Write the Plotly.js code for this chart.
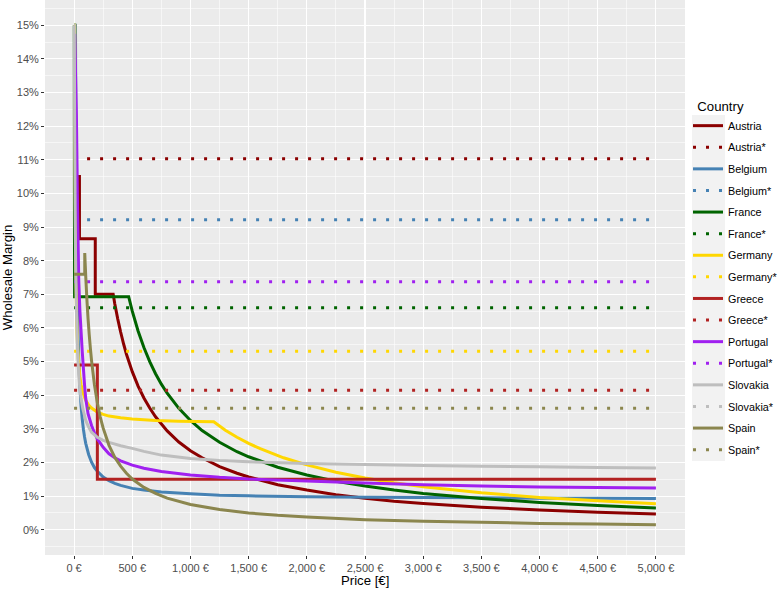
<!DOCTYPE html>
<html>
<head>
<meta charset="utf-8">
<script src="https://cdn.plot.ly/plotly-3.0.1.min.js"></script>
<style>html,body{margin:0;padding:0;background:#fff}#chart{width:777px;height:590px}</style>
</head>
<body>
<div id="chart"></div>
<script>
// ---- Data ----
const countries = ["Austria", "Belgium", "France", "Germany", "Greece", "Portugal", "Slovakia", "Spain"];
const colors = ["#8B0000", "#4682B4", "#006400", "#FFD700", "#B22222", "#A020F0", "#BEBEBE", "#8B864E"];

// Price in EUR, wholesale margin in %
const priceAustria  = [0, 46, 46, 182, 182, 336, 350, 375, 400, 425, 450, 500, 550, 600, 650, 700, 800, 900, 1000, 1100, 1250, 1400, 1500, 1750, 2000, 2250, 2500, 2750, 3000, 3500, 4000, 4500, 5000];
const marginAustria = [10.5, 10.5, 8.65, 8.65, 7.0, 7.0, 6.71, 6.27, 5.88, 5.53, 5.22, 4.70, 4.27, 3.92, 3.62, 3.36, 2.94, 2.61, 2.35, 2.14, 1.88, 1.68, 1.57, 1.34, 1.18, 1.04, 0.94, 0.85, 0.78, 0.67, 0.59, 0.52, 0.47];

const priceBelgium  = [0, 11.9, 15, 20, 25, 30, 40, 50, 60, 70, 80, 90, 100, 125, 150, 175, 200, 250, 300, 350, 400, 500, 600, 750, 1000, 1250, 1500, 2000, 2500, 3000, 3500, 4000, 4500, 5000];
const marginBelgium = [15, 15, 12.03, 9.25, 7.58, 6.47, 5.08, 4.24, 3.68, 3.29, 2.99, 2.76, 2.57, 2.24, 2.01, 1.85, 1.74, 1.57, 1.46, 1.38, 1.32, 1.23, 1.18, 1.12, 1.07, 1.03, 1.01, 0.98, 0.97, 0.96, 0.95, 0.94, 0.94, 0.93];

const priceFrance  = [0, 2, 2.5, 3, 3.5, 4.33, 469, 500, 550, 600, 650, 700, 750, 800, 900, 1000, 1100, 1250, 1400, 1500, 1750, 2000, 2250, 2500, 2750, 3000, 3500, 4000, 4500, 5000];
const marginFrance = [15, 15, 12, 10, 8.57, 6.93, 6.93, 6.5, 5.91, 5.42, 5.0, 4.64, 4.33, 4.06, 3.61, 3.25, 2.95, 2.6, 2.32, 2.17, 1.86, 1.63, 1.44, 1.3, 1.18, 1.08, 0.93, 0.81, 0.72, 0.65];

const priceGermany  = [0, 5.9, 7, 8, 9, 10, 12, 15, 20, 25, 30, 40, 50, 60, 75, 100, 125, 150, 200, 250, 300, 400, 500, 700, 900, 1200, 1300, 1400, 1500, 1600, 1800, 2000, 2250, 2500, 2750, 3000, 3500, 4000, 4500, 5000];
const marginGermany = [15, 15, 13.15, 11.9, 10.93, 10.15, 8.98, 7.82, 6.65, 5.95, 5.48, 4.9, 4.55, 4.32, 4.08, 3.85, 3.71, 3.62, 3.5, 3.43, 3.38, 3.33, 3.29, 3.25, 3.23, 3.21, 2.96, 2.75, 2.57, 2.41, 2.14, 1.93, 1.71, 1.54, 1.4, 1.28, 1.1, 0.96, 0.86, 0.77];

const priceGreece  = [0, 200, 200, 5000];
const marginGreece = [4.9, 4.9, 1.5, 1.5];

const pricePortugal  = [0, 5, 10, 20, 30, 40, 50, 60, 70, 80, 90, 100, 120, 150, 175, 200, 250, 300, 350, 400, 500, 600, 750, 1000, 1250, 1500, 2000, 2500, 3000, 3500, 4000, 4500, 5000];
const marginPortugal = [14.7, 14.7, 14.0, 12.3, 9.5, 7.4, 6.5, 5.9, 5.3, 4.8, 4.3, 3.9, 3.45, 3.1, 2.88, 2.7, 2.45, 2.26, 2.14, 2.05, 1.92, 1.83, 1.73, 1.63, 1.56, 1.51, 1.45, 1.39, 1.34, 1.30, 1.27, 1.255, 1.24];

const priceSlovakia  = [0, 2, 5, 10, 15, 20, 30, 40, 50, 60, 75, 100, 125, 150, 200, 250, 300, 400, 500, 600, 750, 1000, 1250, 1500, 2000, 2500, 3000, 3500, 4000, 4500, 5000];
const marginSlovakia = [15, 15, 12, 9, 7.5, 6.5, 5.3, 4.6, 4.2, 3.9, 3.6, 3.25, 3.05, 2.9, 2.75, 2.66, 2.6, 2.5, 2.42, 2.33, 2.22, 2.12, 2.06, 2.02, 1.97, 1.94, 1.91, 1.89, 1.87, 1.855, 1.84];

const priceSpain  = [0, 91.6, 91.6, 95, 100, 110, 120, 130, 140, 150, 175, 200, 225, 250, 300, 350, 400, 450, 500, 600, 700, 800, 1000, 1250, 1500, 1750, 2000, 2500, 3000, 3500, 4000, 4500, 5000];
const marginSpain = [7.6, 7.6, 8.23, 7.94, 7.54, 6.85, 6.28, 5.8, 5.39, 5.03, 4.31, 3.77, 3.35, 3.02, 2.51, 2.15, 1.89, 1.68, 1.51, 1.26, 1.08, 0.94, 0.75, 0.6, 0.5, 0.43, 0.38, 0.3, 0.25, 0.22, 0.19, 0.17, 0.15];

// Flat reference levels (the "*" series), in %
const flatPrice = [0, 5000];
const flatAustria = 11.03, flatBelgium = 9.22, flatFrance = 6.6, flatGermany = 5.31,
      flatGreece = 4.15, flatPortugal = 7.37, flatSlovakia = null, flatSpain = 3.61;

// Axis ticks
const xTickVals = [0, 500, 1000, 1500, 2000, 2500, 3000, 3500, 4000, 4500, 5000];
const xTickText = ["0 €", "500 €", "1,000 €", "1,500 €", "2,000 €", "2,500 €", "3,000 €", "3,500 €", "4,000 €", "4,500 €", "5,000 €"];
const yTickVals = [0, 1, 2, 3, 4, 5, 6, 7, 8, 9, 10, 11, 12, 13, 14, 15];
const yTickText = ["0%", "1%", "2%", "3%", "4%", "5%", "6%", "7%", "8%", "9%", "10%", "11%", "12%", "13%", "14%", "15%"];

// ---- Build traces ----
const curves = {
  Austria: [priceAustria, marginAustria, flatAustria],
  Belgium: [priceBelgium, marginBelgium, flatBelgium],
  France: [priceFrance, marginFrance, flatFrance],
  Germany: [priceGermany, marginGermany, flatGermany],
  Greece: [priceGreece, marginGreece, flatGreece],
  Portugal: [pricePortugal, marginPortugal, flatPortugal],
  Slovakia: [priceSlovakia, marginSlovakia, flatSlovakia],
  Spain: [priceSpain, marginSpain, flatSpain]
};

const traces = [];
countries.forEach((c, i) => {
  const [px, py, flat] = curves[c];
  traces.push({
    type: 'scatter', mode: 'lines', name: c, legendgroup: c,
    x: px, y: py,
    line: {color: colors[i], width: 3, simplify: false},
    hoverinfo: 'skip'
  });
  traces.push({
    type: 'scatter', mode: 'lines', name: c + '*', legendgroup: c + '*',
    x: flatPrice, y: flatPrice.map(() => flat),
    line: {color: colors[i], width: 3, dash: '3px,10px'},
    hoverinfo: 'skip'
  });
});

const FONT = 'Liberation Sans, Arial, sans-serif';
const L = 45, R = 92, T = 0, B = 35, W = 777, H = 590;
const pw = W - L - R, ph = H - T - B;
const px2paperX = p => (p - L) / pw;
const px2paperY = p => (H - B - p) / ph;

const layout = {
  width: W, height: H,
  margin: {l: L, r: R, t: T, b: B, autoexpand: false},
  paper_bgcolor: '#FFFFFF',
  plot_bgcolor: '#EBEBEB',
  font: {family: FONT, size: 11, color: '#4D4D4D'},
  showlegend: true,
  xaxis: {
    range: [-250, 5250],
    tickvals: xTickVals, ticktext: xTickText,
    ticks: 'outside', ticklen: 3, tickwidth: 1, tickcolor: '#333333',
    tickfont: {family: FONT, size: 11, color: '#4D4D4D'},
    showgrid: true, gridcolor: '#FFFFFF', gridwidth: 1.1,
    minor: {dtick: 250, tick0: 0, showgrid: true, gridcolor: '#FFFFFF', gridwidth: 0.55},
    zeroline: false, showline: false
  },
  yaxis: {
    range: [-0.75, 15.75],
    tickvals: yTickVals, ticktext: yTickText,
    ticks: 'outside', ticklen: 3, tickwidth: 1, tickcolor: '#333333',
    tickfont: {family: FONT, size: 11, color: '#4D4D4D'},
    showgrid: true, gridcolor: '#FFFFFF', gridwidth: 1.1,
    minor: {dtick: 0.5, tick0: 0, showgrid: true, gridcolor: '#FFFFFF', gridwidth: 0.55},
    zeroline: false, showline: false,
    title: {text: 'Wholesale Margin', font: {family: FONT, size: 13.2, color: '#000000'}, standoff: 2}
  },
  annotations: [{
    text: 'Price [€]', xref: 'paper', yref: 'paper', x: px2paperX(365), y: px2paperY(580),
    xanchor: 'center', yanchor: 'middle', showarrow: false,
    font: {family: FONT, size: 13.2, color: '#000000'}
  }],
  legend: {
    x: px2paperX(688), xanchor: 'left',
    y: px2paperY(94), yanchor: 'top',
    bgcolor: 'rgba(0,0,0,0)',
    font: {family: FONT, size: 10.8, color: '#000000'},
    title: {text: '&nbsp;&nbsp;Country', font: {family: FONT, size: 13.2, color: '#000000'}},
    tracegroupgap: 2.6,
    itemwidth: 30,
    traceorder: 'grouped'
  },
  shapes: [{
    type: 'rect', xref: 'paper', yref: 'paper', layer: 'below',
    x0: px2paperX(692), x1: px2paperX(725), y0: px2paperY(461), y1: px2paperY(115),
    fillcolor: '#F2F2F2', line: {width: 0}
  }]
};

Plotly.newPlot('chart', traces, layout, {displayModeBar: false, staticPlot: true});
</script>
</body>
</html>
